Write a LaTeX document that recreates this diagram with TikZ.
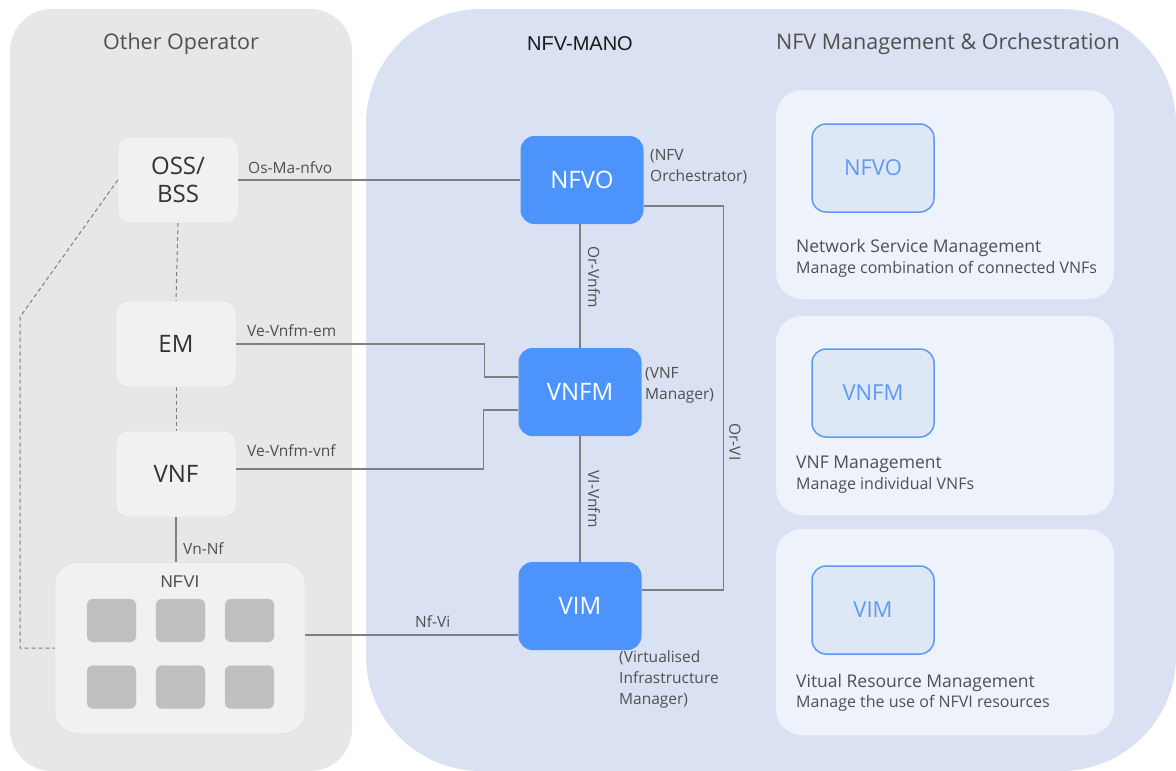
\documentclass[tikz,border=0pt]{standalone}
\usepackage{fontspec}
\setmainfont{Open Sans}
\newfontfamily\headfont{Liberation Sans}
\usetikzlibrary{positioning}
\definecolor{opback}{HTML}{E8E6E6}
\definecolor{manoback}{HTML}{DAE1F2}
\definecolor{mgmtback}{HTML}{EDF2FB}
\definecolor{opfill}{HTML}{F1F1F1}
\definecolor{opedge}{HTML}{DCDCDC}
\definecolor{manoblue}{HTML}{4C94FB}
\definecolor{mgmtfill}{HTML}{DDE7F6}
\definecolor{mgmtedge}{HTML}{5C9BF5}
\definecolor{chipgray}{HTML}{BFBFBF}
\definecolor{linegray}{HTML}{7F7F7F}
\definecolor{textgray}{HTML}{505050}

\begin{document}
\begin{tikzpicture}[x=1pt,y=-1pt,
    opbox/.style={draw=opedge,fill=opfill,rounded corners=12pt,minimum width=120pt,minimum height=86pt,align=center,text=black!80,font=\fontsize{24}{28}\selectfont},
    manobox/.style={fill=manoblue,rounded corners=14pt,minimum width=123pt,minimum height=88pt,text=white,font=\fontsize{24}{28}\selectfont},
    mgmtpanel/.style={fill=mgmtback,rounded corners=26pt,minimum width=338pt},
    mgmtbox/.style={draw=mgmtedge,line width=1.5pt,fill=mgmtfill,rounded corners=14pt,minimum width=122pt,minimum height=88pt,text=mgmtedge,font=\fontsize{22}{26}\selectfont},
    chip/.style={draw=chipgray!85,fill=chipgray,rounded corners=6pt,minimum width=49pt,minimum height=43pt},
    link/.style={draw=linegray,line width=1.2pt},
    dashlink/.style={draw=linegray,line width=1pt,dash pattern=on 4pt off 3pt},
    lbl/.style={text=textgray,inner sep=0pt,font=\fontsize{15.5}{18}\selectfont},
    note/.style={text=textgray,inner sep=0pt,align=left,font=\fontsize{15.5}{21}\selectfont},
    heading/.style={text=textgray,inner sep=0pt,font=\fontsize{21.5}{24}\selectfont},
    mtitle/.style={text=textgray,inner sep=0pt,anchor=west,font=\fontsize{17.5}{20}\selectfont},
    mdesc/.style={text=textgray,inner sep=0pt,anchor=west,font=\fontsize{16}{18}\selectfont}]
    \useasboundingbox (0,0) rectangle (1176,771);
    \fill [opback,rounded corners=42pt] (10,9) rectangle (352,771);
    \fill [manoback,rounded corners=115pt] (366,9) rectangle (1176,771);

    \node [heading] (op-title) at (181,44) {Other Operator};
    \node [heading,text=black!90,font=\headfont\fontsize{20}{24}\selectfont] (mano-title) at (580,44) {NFV-MANO};
    \node [heading] (mgmt-title) at (948,44) {NFV Management \& Orchestration};

    \node [opbox] (oss) at (178,180) {OSS/\\BSS};
    \node [opbox] (em) at (176,344) {EM};
    \node [opbox] (vnf) at (176,474) {VNF};
    \node [draw=opedge,fill=opfill,rounded corners=22pt,minimum width=250pt,minimum height=171pt] (nfvi) at (180,648) {};
    \node [text=textgray,font=\headfont\fontsize{17}{20}\selectfont] (nfvi-label) at (180,582) {NFVI};
    \foreach \c in {0,1,2}
        \foreach \r in {0,1}
            \node [chip] (chip-\c\r) at (111.5+69*\c,620.5+66.5*\r) {};

    \node [manobox] (nfvo) at (582,180) {NFVO};
    \node [manobox] (vnfm) at (580,392) {VNFM};
    \node [manobox] (vim) at (580,606) {VIM};
    \node [note,anchor=north west] (nfvo-note) at (650,149) {(NFV\\Orchestrator)};
    \node [note,anchor=north west] (vnfm-note) at (645,367) {(VNF\\Manager)};
    \node [note,anchor=north west] (vim-note) at (619,651) {(Virtualised\\Infrastructure\\Manager)};

    \draw [dashlink] (oss.south) -- (em.north);
    \draw [dashlink] (em.south) -- (vnf.north);
    \coordinate (oss-bend) at (20,317);
    \draw [dashlink] (oss.west) -- (oss-bend) |- (nfvi.west);
    \draw [link] (vnf.south) -- (vnf.south |- nfvi.north);
    \node [lbl,anchor=west] (vn-nf) at (183,549) {Vn-Nf};

    \draw [link] (oss.east) -- (oss.east -| nfvo.west);
    \node [lbl,anchor=west] (os-ma) at (248,168) {Os-Ma-nfvo};
    \draw [link] (em.east) -- ++(248,0) |- ([yshift=15pt]vnfm.west);
    \node [lbl,anchor=west] (ve-em) at (247,331) {Ve-Vnfm-em};
    \draw [link] ([yshift=5pt]vnf.east) -- ++(247,0) |- ([yshift=-18pt]vnfm.west);
    \node [lbl,anchor=west] (ve-vnf) at (247,451) {Ve-Vnfm-vnf};
    \coordinate (nfvi-port) at ([yshift=13pt]nfvi.east);
    \draw [link] (nfvi-port) -- (nfvi-port -| vim.west);
    \node [lbl,anchor=west] (nf-vi) at (415,622) {Nf-Vi};

    \draw [link] (vnfm.north |- nfvo.south) -- (vnfm.north);
    \node [lbl,rotate=-90] (or-vnfm) at (594,277) {Or-Vnfm};
    \draw [link] (vnfm.south) -- (vim.north);
    \node [lbl,rotate=-90] (vi-vnfm) at (594,499) {VI-Vnfm};
    \draw [link] ([yshift=-26pt]nfvo.east) -- ++(80,0) |- ([yshift=16pt]vim.east);
    \node [lbl,rotate=-90] (or-vi) at (735,442) {Or-VI};

    \node [mgmtpanel,minimum height=209pt] (nfvo-panel) at (945,194.5) {};
    \node [mgmtbox] (nfvo-box) at (873,168) {NFVO};
    \node [mtitle] (nfvo-head) at (796,248) {Network Service Management};
    \node [mdesc] (nfvo-desc) at (796,269) {Manage combination of connected VNFs};

    \node [mgmtpanel,minimum height=199pt] (vnfm-panel) at (945,415.5) {};
    \node [mgmtbox] (vnfm-box) at (873,393) {VNFM};
    \node [mtitle] (vnfm-head) at (796,464) {VNF Management};
    \node [mdesc] (vnfm-desc) at (796,485) {Manage individual VNFs};

    \node [mgmtpanel,minimum height=206pt] (vim-panel) at (945,632) {};
    \node [mgmtbox] (vim-box) at (873,610) {VIM};
    \node [mtitle] (vim-head) at (796,683) {Vitual Resource Management};
    \node [mdesc] (vim-desc) at (796,703) {Manage the use of NFVI resources};
\end{tikzpicture}
\end{document}
